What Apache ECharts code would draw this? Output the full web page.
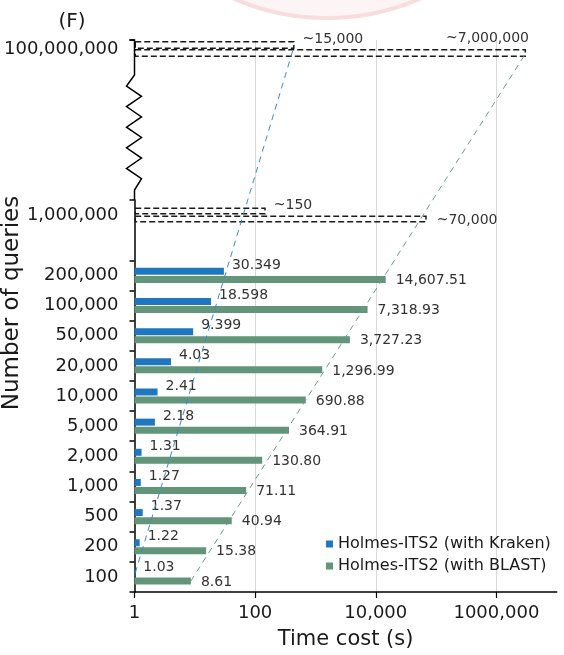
<!DOCTYPE html>
<html><head><meta charset="utf-8">
<script src="https://cdn.jsdelivr.net/npm/echarts@6/dist/echarts.min.js"></script>
<style>html,body{margin:0;padding:0;background:#fff}#c{width:564px;height:655px}</style>
</head><body><div id="c"></div>
<script>
// ---------- data ----------
const queryCategories = ['100','200','500','1,000','2,000','5,000','10,000','20,000','50,000','100,000','200,000'];
const krakenTimes = [1.03, 1.22, 1.37, 1.27, 1.31, 2.18, 2.41, 4.03, 9.399, 18.598, 30.349];
const blastTimes = [8.61, 15.38, 40.94, 71.11, 130.80, 364.91, 690.88, 1296.99, 3727.23, 7318.93, 14607.51];
const projectedQueries = ['1,000,000', '100,000,000'];
const krakenProjected = [150, 450];          // drawn extent of the dashed boxes
const blastProjected = [70000, 3100000];
const krakenProjectedLabels = ['~150', '~15,000'];
const blastProjectedLabels = ['~70,000', '~7,000,000'];
const xTickValues = [1, 100, 10000, 1000000];
const xTickLabels = ['1', '100', '10,000', '1000,000'];
const seriesNames = ['Holmes-ITS2 (with Kraken)', 'Holmes-ITS2 (with BLAST)'];

// ---------- layout / style ----------
const FONT = 'DejaVu Sans';
const TXT = '#1a1a1a';
const BLUE = '#1f77bf';
const GREEN = '#62957a';
const AX_L = 134.5, AX_R = 7.3, TOP_Y = 40, MID_Y = 200, BOT_Y = 596;
const TOP_ROWS = 9;

const mainCats = queryCategories.concat(['', projectedQueries[0]]);
const topCats = new Array(TOP_ROWS - 1).fill('').concat([projectedQueries[1]]);

const dashedBox = { color: 'rgba(0,0,0,0)', borderColor: '#1a1a1a', borderWidth: 1.5, borderType: [6, 3] };

function fmtBlast(v) {
  return Number(v).toLocaleString('en-US', { minimumFractionDigits: 2, maximumFractionDigits: 2 });
}

const krakenMain = krakenTimes.map(v => ({ value: v })).concat([
  '-', { value: krakenProjected[0], itemStyle: dashedBox, label: { formatter: krakenProjectedLabels[0] } }
]);
const blastMain = blastTimes.map(v => ({ value: v })).concat([
  '-', { value: blastProjected[0], itemStyle: dashedBox, label: { formatter: blastProjectedLabels[0] } }
]);
const krakenTop = new Array(TOP_ROWS - 1).fill('-').concat([
  { value: krakenProjected[1], itemStyle: dashedBox, label: { formatter: krakenProjectedLabels[1] } }
]);
const blastTop = new Array(TOP_ROWS - 1).fill('-').concat([
  { value: blastProjected[1], itemStyle: dashedBox,
    label: { position: 'insideRight', distance: -3, offset: [0, -15], formatter: blastProjectedLabels[1] } }
]);

const krakenLabel = { show: true, position: 'right', distance: 8, offset: [0, -6],
  fontFamily: FONT, fontSize: 14, color: '#333', formatter: p => String(p.value) };
const blastLabel = { show: true, position: 'right', distance: 10, offset: [0, 1],
  fontFamily: FONT, fontSize: 14, color: '#333', formatter: p => fmtBlast(p.value) };

function xAxisBase(gridIndex, showAxis) {
  return {
    type: 'log', logBase: 100, min: 1, max: 1e7, gridIndex: gridIndex,
    axisLine: { show: showAxis, onZero: false, lineStyle: { color: '#000', width: 1.5 } },
    axisTick: { show: showAxis, length: 6, lineStyle: { color: '#000', width: 1.2 } },
    axisLabel: {
      show: showAxis, showMaxLabel: false, margin: 12, fontFamily: FONT, fontSize: 18, color: TXT,
      formatter: v => { const i = xTickValues.findIndex(t => Math.abs(t - v) / t < 1e-6); return i >= 0 ? xTickLabels[i] : ''; }
    },
    splitLine: { show: true, showMinLine: false, showMaxLine: false, lineStyle: { color: '#d9d9d9', width: 1 } }
  };
}

const option = {
  animation: false,
  backgroundColor: '#fff',
  legend: {
    data: seriesNames, orient: 'vertical', left: 321, top: 531,
    itemWidth: 7, itemHeight: 7, itemGap: 6, icon: 'rect',
    textStyle: { fontFamily: FONT, fontSize: 16, color: TXT }
  },
  grid: [
    { left: AX_L, right: AX_R, top: TOP_Y, height: MID_Y - TOP_Y, containLabel: false },
    { left: AX_L, right: AX_R, top: MID_Y, height: BOT_Y - MID_Y, containLabel: false }
  ],
  xAxis: [
    xAxisBase(0, false),
    Object.assign(xAxisBase(1, true), {
      name: 'Time cost (s)', nameLocation: 'middle', nameGap: 37,
      nameTextStyle: { fontFamily: FONT, fontSize: 21, color: TXT }
    })
  ],
  yAxis: [
    {
      type: 'category', gridIndex: 0, data: topCats,
      axisLine: { show: false },
      axisTick: { show: true, length: 5, interval: (i) => i === 0, lineStyle: { color: '#000', width: 1.5 } },
      axisLabel: { interval: 0, margin: 16, fontFamily: FONT, fontSize: 18, color: TXT }
    },
    {
      type: 'category', gridIndex: 1, data: mainCats,
      axisLine: { show: true, lineStyle: { color: '#000', width: 1.5 } },
      axisTick: { show: true, length: 5, interval: (i) => i !== mainCats.length - 1, lineStyle: { color: '#000', width: 1.5 } },
      axisLabel: { interval: 0, margin: 16, fontFamily: FONT, fontSize: 18, color: TXT }
    }
  ],
  series: [
    { name: seriesNames[0], type: 'bar', xAxisIndex: 1, yAxisIndex: 1, data: krakenMain,
      barWidth: 7, barGap: '15%', itemStyle: { color: BLUE }, label: krakenLabel },
    { name: seriesNames[1], type: 'bar', xAxisIndex: 1, yAxisIndex: 1, data: blastMain,
      barWidth: 7, barGap: '15%', itemStyle: { color: GREEN }, label: blastLabel },
    { name: 'kraken-projected', type: 'bar', xAxisIndex: 0, yAxisIndex: 0, data: krakenTop,
      barWidth: 8, barGap: '0%', itemStyle: { color: BLUE }, label: krakenLabel },
    { name: 'blast-projected', type: 'bar', xAxisIndex: 0, yAxisIndex: 0, data: blastTop,
      barWidth: 8, barGap: '0%', itemStyle: { color: GREEN }, label: blastLabel }
  ]
};

const chart = echarts.init(document.getElementById('c'), null, { renderer: 'canvas' });
chart.setOption(option);

// ---------- decorations derived from the rendered layout ----------
function barEnd(seriesIndex, dataIndex) {
  const l = chart.getModel().getSeriesByIndex(seriesIndex).getData().getItemLayout(dataIndex);
  return [l.x + l.width, l.y + l.height / 2];
}
const kStart = barEnd(0, 0), kEnd = barEnd(2, TOP_ROWS - 1);
const bStart = barEnd(1, 0), bEnd = barEnd(3, TOP_ROWS - 1);

// broken y-axis line with zigzag
const zz = [[AX_L - 5, TOP_Y], [AX_L, TOP_Y], [AX_L, TOP_Y + 35]];
const zStep = 10.3;
for (let i = 0; i < 10; i++) {
  zz.push([i % 2 === 0 ? AX_L - 8 : AX_L + 7, TOP_Y + 46 + i * zStep]);
}
zz.push([AX_L, MID_Y - 10], [AX_L, MID_Y]);

chart.setOption({
  graphic: [
    { type: 'circle', z: -10, silent: true, shape: { cx: 327, cy: -216, r: 234 },
      style: { fill: '#fdf5f5', stroke: '#f7dddd', lineWidth: 4 } },
    { type: 'polyline', z: 10, silent: true, shape: { points: zz },
      style: { stroke: '#000', lineWidth: 1.5, fill: null } },
    { type: 'line', z: 5, silent: true, shape: { x1: kStart[0], y1: kStart[1], x2: kEnd[0], y2: kEnd[1] },
      style: { stroke: '#3b88c9', lineWidth: 1, lineDash: [6, 5] } },
    { type: 'line', z: 5, silent: true, shape: { x1: bStart[0], y1: bStart[1], x2: bEnd[0], y2: bEnd[1] },
      style: { stroke: '#6f9a86', lineWidth: 1, lineDash: [6, 5] } },
    { type: 'text', x: 12, y: 303, rotation: Math.PI / 2, silent: true,
      style: { text: 'Number of queries', font: '23px "DejaVu Sans"', fill: TXT, align: 'center', verticalAlign: 'middle' } },
    { type: 'text', x: 72, y: 22, silent: true,
      style: { text: '(F)', font: '20px "DejaVu Sans"', fill: TXT, align: 'center', verticalAlign: 'middle' } }
  ]
});
</script>
</body></html>
